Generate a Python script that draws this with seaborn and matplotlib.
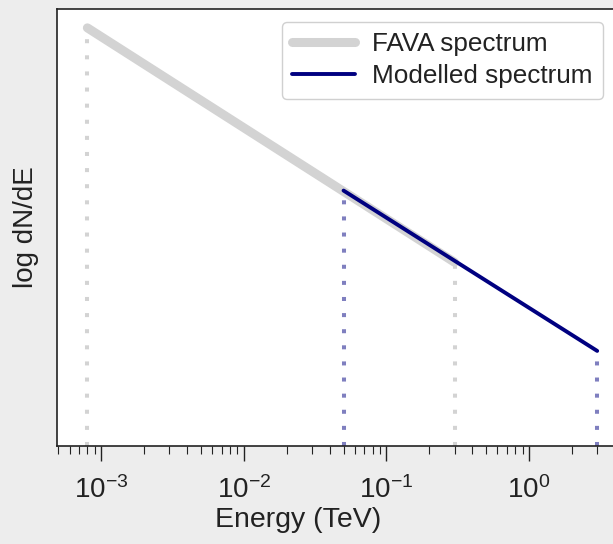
import matplotlib
matplotlib.use("Agg")
import matplotlib.pyplot as plt
import seaborn as sns
import pandas as pd

# Data (log-log power-law spectra)
fava_energy = [0.0008, 0.3]          # TeV
fava_flux = [3.7e-4, 1.6e-9]         # dN/dE (arbitrary units)
model_energy = [0.05, 3.0]           # TeV
model_flux = [7.0e-8, 1.5e-11]
y_bottom = 1e-13
y_top = 1e-3
x_left = 4.9e-4
x_right = 4.0

sns.set_theme(style="white")
plt.rcParams['font.family'] = ['Liberation Sans', 'DejaVu Sans']
plt.rcParams['mathtext.fontset'] = 'custom'
plt.rcParams['mathtext.rm'] = 'Liberation Sans'

fig = plt.figure(figsize=(6.13, 5.44), dpi=100, facecolor="#ededed")
ax = fig.add_axes([57 / 613, 98 / 544, 558 / 613, 437 / 544])
ax.set_facecolor("white")

df_fava = pd.DataFrame({"E": fava_energy, "F": fava_flux})
df_model = pd.DataFrame({"E": model_energy, "F": model_flux})

# dotted verticals
ax.vlines(fava_energy, y_bottom, fava_flux, colors="#d3d3d3", linewidth=2.9,
          linestyles=(0, (1, 3)), zorder=1)
ax.vlines(model_energy, y_bottom, model_flux, colors="#000080", alpha=0.5,
          linewidth=2.9, linestyles=(0, (1, 3)), zorder=1)

sns.lineplot(data=df_fava, x="E", y="F", ax=ax, color="#d3d3d3", linewidth=6.5,
             label="FAVA spectrum", zorder=2)
sns.lineplot(data=df_model, x="E", y="F", ax=ax, color="#000080", linewidth=2.8,
             label="Modelled spectrum", zorder=3)

ax.set_xscale("log")
ax.set_yscale("log")
ax.set_xlim(x_left, x_right)
ax.set_ylim(y_bottom, y_top)
ax.set_yticks([])
ax.minorticks_on()
ax.yaxis.set_minor_locator(matplotlib.ticker.NullLocator())
ax.tick_params(axis="x", which="major", direction="out", length=10.5, width=1,
               labelsize=20, pad=11, bottom=True, colors="#222222",
               labelcolor="#222222")
ax.tick_params(axis="x", which="minor", direction="out", length=5.5, width=0.8,
               bottom=True, colors="#222222")

for s in ax.spines.values():
    s.set_color("#222222")
    s.set_linewidth(1.2)

ax.set_xlabel("Energy (TeV)", fontsize=20.5, color="#222222")
ax.xaxis.set_label_coords((298 - 57) / 558, -(507 - 446) / 437)
ax.set_ylabel("log dN/dE", fontsize=20, color="#222222", labelpad=13)

leg = ax.legend(loc="upper right", bbox_to_anchor=(603 / 613, 1 - 22 / 544),
                bbox_transform=fig.transFigure, borderaxespad=0,
                fontsize=18.8, handlelength=2.4, frameon=True, fancybox=True,
                framealpha=1, edgecolor="#d0d0d0", labelspacing=0.3,
                borderpad=0.4, handletextpad=0.65)
for t in leg.get_texts():
    t.set_color("#222222")

fig.savefig("out.png", dpi=100, facecolor=fig.get_facecolor())
